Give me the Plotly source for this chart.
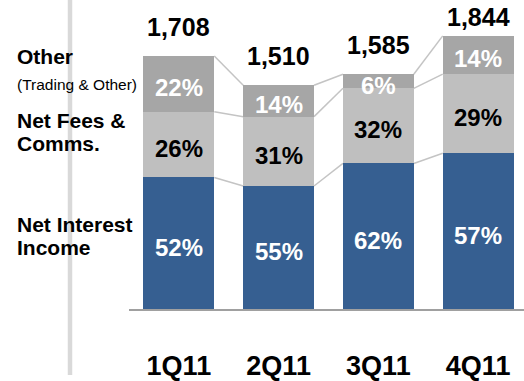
import plotly.graph_objects as go

# Revenue mix by quarter
quarters = ["1Q11", "2Q11", "3Q11", "4Q11"]
totals = [1708, 1510, 1585, 1844]
nii_pct = [52, 55, 62, 57]
fees_pct = [26, 31, 32, 29]
other_pct = [22, 14, 6, 14]

series_names = ["Net Interest Income", "Net Fees & Comms.", "Other"]
series_pct = [nii_pct, fees_pct, other_pct]
colors = ["#365F91", "#BFBFBF", "#A6A6A6"]
label_colors = ["white", "black", "white"]

FONT = "Liberation Sans, Arial, sans-serif"
W, H = 524, 381
M_L, M_B = 129, 67
Y_MAX = 2086
BAR_W = 0.71
X_RANGE = [-0.5, 3.46]

x = list(range(len(quarters)))
px_per_unit = (H - M_B) / Y_MAX

fig = go.Figure()

# stacked segments (values derived from total x share)
seg_values = [[t * p / 100 for t, p in zip(totals, pcts)] for pcts in series_pct]
for name, vals, col in zip(series_names, seg_values, colors):
    fig.add_trace(go.Bar(
        x=x, y=vals, name=name, width=BAR_W,
        marker=dict(color=col, line=dict(width=0)),
        hoverinfo="skip",
    ))

# cumulative boundaries for connectors and label placement
bottoms = [[0.0] * len(x)]
for vals in seg_values:
    bottoms.append([b + v for b, v in zip(bottoms[-1], vals)])

shapes = []
for level in bottoms[1:]:
    for i in range(len(x) - 1):
        shapes.append(dict(
            type="line", xref="x", yref="y",
            x0=x[i] + BAR_W / 2, y0=level[i],
            x1=x[i + 1] - BAR_W / 2, y1=level[i + 1],
            line=dict(color="#C4C4C4", width=1.5), layer="below",
        ))

# vertical divider on the left
shapes.append(dict(
    type="line", xref="paper", yref="paper",
    x0=-(M_L - 70) / (W - M_L), x1=-(M_L - 70) / (W - M_L),
    y0=-M_B / (H - M_B), y1=1.0,
    line=dict(color="#D9D9D9", width=4.5), layer="below",
))

annotations = []
# percentage labels inside each segment
for s, (pcts, vals) in enumerate(zip(series_pct, seg_values)):
    for i in x:
        annotations.append(dict(
            x=x[i], y=bottoms[s][i] + vals[i] / 2, xref="x", yref="y",
            text=f"<b>{pcts[i]}%</b>", showarrow=False,
            font=dict(family=FONT, size=24, color=label_colors[s]),
            yanchor="middle", yshift=-4,
        ))

# totals above bars, kept inside the canvas
for i in x:
    top_px = (Y_MAX - totals[i]) * px_per_unit
    lift = min(29, top_px - 18)
    annotations.append(dict(
        x=x[i], y=totals[i], xref="x", yref="y",
        text=f"<b>{totals[i]:,}</b>", showarrow=False,
        font=dict(family=FONT, size=25, color="black"),
        yanchor="middle", yshift=lift,
    ))

# series captions on the left
def px_to_paper(py):
    return (H - M_B - py) / (H - M_B)

captions = [
    ("<b>Other</b>", 57, 21),
    ("(Trading & Other)", 86, 15.5),
    ("<b>Net Fees &</b>", 122, 21),
    ("<b>Comms.</b>", 146, 21),
    ("<b>Net Interest</b>", 228, 21),
    ("<b>Income</b>", 252, 21),
]
for text, py, size in captions:
    annotations.append(dict(
        x=-(M_L - 15) / (W - M_L), y=px_to_paper(py), xref="paper", yref="paper",
        text=text, showarrow=False, xanchor="left", yanchor="middle",
        font=dict(family=FONT, size=size, color="black"),
    ))

fig.update_layout(
    width=W, height=H, barmode="stack", showlegend=False,
    margin=dict(l=M_L, r=0, t=0, b=M_B, pad=0),
    paper_bgcolor="white", plot_bgcolor="white",
    shapes=shapes, annotations=annotations,
    bargap=0,
    xaxis=dict(
        range=X_RANGE, tickmode="array", tickvals=x,
        ticktext=[f"<b>{q}</b>" for q in quarters],
        tickfont=dict(family=FONT, size=27, color="black"),
        showline=True, linecolor="#A0A0A0", linewidth=1.5,
        ticks="outside", ticklen=32, tickcolor="rgba(0,0,0,0)",
        showgrid=False, zeroline=False, fixedrange=True,
    ),
    yaxis=dict(
        range=[0, Y_MAX], visible=False, showgrid=False,
        zeroline=False, fixedrange=True,
    ),
)

fig.write_html("out.html", config={"displayModeBar": False})
